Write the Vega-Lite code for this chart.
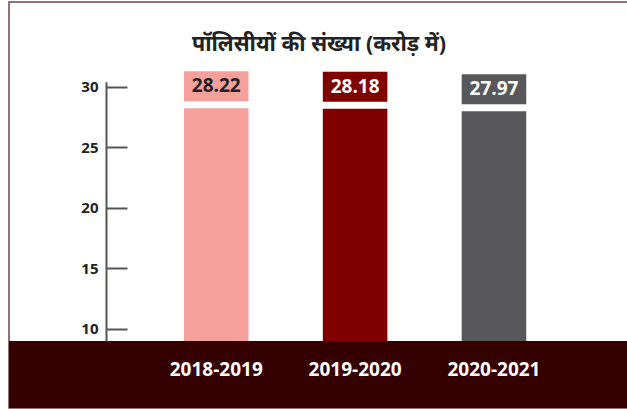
{
  "$schema": "https://vega.github.io/schema/vega-lite/v6.json",
  "autosize": {"type": "none"},
  "width": 620,
  "height": 406,
  "padding": {"left": 9, "top": 2, "right": 0, "bottom": 1},
  "background": "white",
  "title": {
    "text": "पॉलिसीयों की संख्या (करोड़ में)",
    "font": "Noto Sans",
    "fontSize": 21.5,
    "fontWeight": "bold",
    "color": "#222222",
    "anchor": "middle",
    "offset": -53
  },
  "config": {
    "view": {"stroke": "#6e4646", "strokeWidth": 1.5}
  },
  "data": {
    "values": [
      {"year": "2018-2019", "value": 28.22},
      {"year": "2019-2020", "value": 28.18},
      {"year": "2020-2021", "value": 27.97}
    ]
  },
  "encoding": {
    "x": {
      "field": "year",
      "type": "nominal",
      "sort": null,
      "scale": {"paddingInner": 0.535, "paddingOuter": 1.0385, "align": 0.63},
      "axis": {
        "orient": "bottom",
        "offset": -39,
        "domain": false,
        "ticks": false,
        "labelPadding": 0,
        "labelBaseline": "middle",
        "labelAngle": 0,
        "labelFont": "Open Sans",
        "labelFontWeight": "bold",
        "labelFontSize": 19,
        "labelColor": "white",
        "title": null,
        "zindex": 1
      }
    }
  },
  "layer": [
    {
      "data": {"values": [{"band": "base"}]},
      "mark": {"type": "rect", "color": "#350000", "x": 0, "x2": "width", "clip": true},
      "encoding": {
        "x": null,
        "y": {"datum": 9.0, "type": "quantitative"},
        "y2": {"datum": 3.0}
      }
    },
    {
      "mark": {"type": "bar"},
      "encoding": {
        "y": {
          "field": "value",
          "type": "quantitative",
          "scale": {"domain": [9.0, 30.4], "range": [339.1, 79.85], "nice": false, "zero": false},
          "axis": {
            "values": [10, 15, 20, 25, 30],
            "offset": -97,
            "domainColor": "#555555",
            "domainWidth": 2,
            "tickColor": "#555555",
            "tickWidth": 2,
            "tickSize": -21,
            "labelPadding": 29,
            "labelFont": "Open Sans",
            "labelFontWeight": "bold",
            "labelFontSize": 15,
            "labelColor": "#222222",
            "grid": false,
            "title": null,
            "zindex": 1
          }
        },
        "y2": {"datum": 9.0},
        "color": {
          "field": "year",
          "type": "nominal",
          "scale": {"domain": ["2018-2019", "2019-2020", "2020-2021"], "range": ["#f5a09a", "#800000", "#58585a"]},
          "legend": null
        }
      }
    },
    {
      "mark": {"type": "rect", "yOffset": -37, "y2Offset": -7},
      "encoding": {
        "y": {"field": "value", "type": "quantitative"},
        "y2": {"field": "value"},
        "color": {"field": "year", "type": "nominal", "legend": null}
      }
    },
    {
      "mark": {"type": "text", "yOffset": -22, "baseline": "middle", "font": "Open Sans", "fontWeight": "bold", "fontSize": 19},
      "encoding": {
        "y": {"field": "value", "type": "quantitative"},
        "text": {"field": "value", "type": "quantitative", "format": ".2f"},
        "color": {"condition": {"test": "datum.year === '2018-2019'", "value": "#222222"}, "value": "white"}
      }
    }
  ]
}
